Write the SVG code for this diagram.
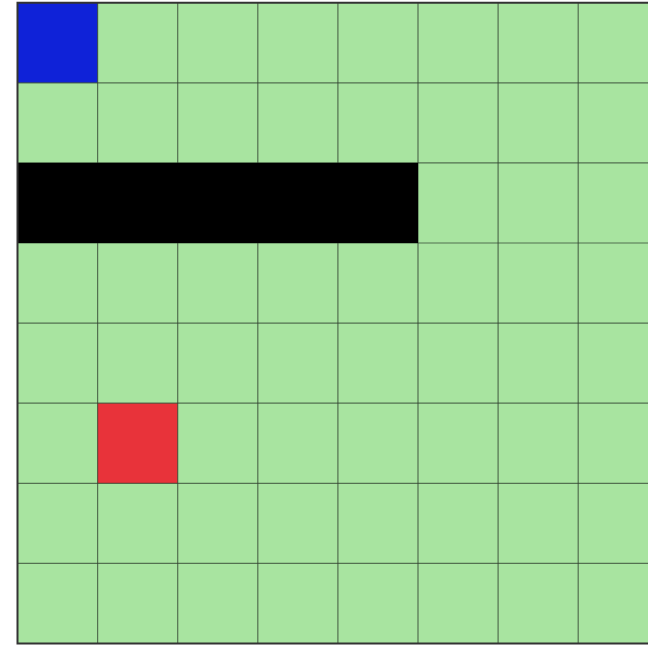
<svg xmlns="http://www.w3.org/2000/svg" width="648" height="645" viewBox="0 0 648 645">
<style>
.wall{fill:#000000}
.start{fill:#0f22d8}
.goal{fill:#e8333a}
</style>
<rect width="648" height="645" fill="#ffffff"/>
<g id="grid">
<rect x="17.5" y="2.7" width="641" height="641" fill="#a8e4a0"/>
</g>
<g id="start"><rect class="start" x="17.5" y="2.7" width="80.1" height="80.1"/></g>
<g id="goal"><rect class="goal" x="97.6" y="403.2" width="80.1" height="80.1"/></g>
<g id="lines" stroke="#2f3f2d" stroke-opacity="0.7" stroke-width="1.2" fill="none">
<path d="M97.6 2.7V643.6M177.7 2.7V643.6M257.8 2.7V643.6M337.9 2.7V643.6M418 2.7V643.6M498.1 2.7V643.6M578.2 2.7V643.6"/>
<path d="M17.5 82.8H648M17.5 162.9H648M17.5 243H648M17.5 323.1H648M17.5 403.2H648M17.5 483.3H648M17.5 563.4H648"/>
</g>
<g id="wall"><rect class="wall" x="17.5" y="162.9" width="400.5" height="80.1"/></g>
<g id="border" stroke="#333" stroke-width="2" fill="none">
<path d="M648 2.7H17.5V643.6H648"/>
</g>
</svg>
